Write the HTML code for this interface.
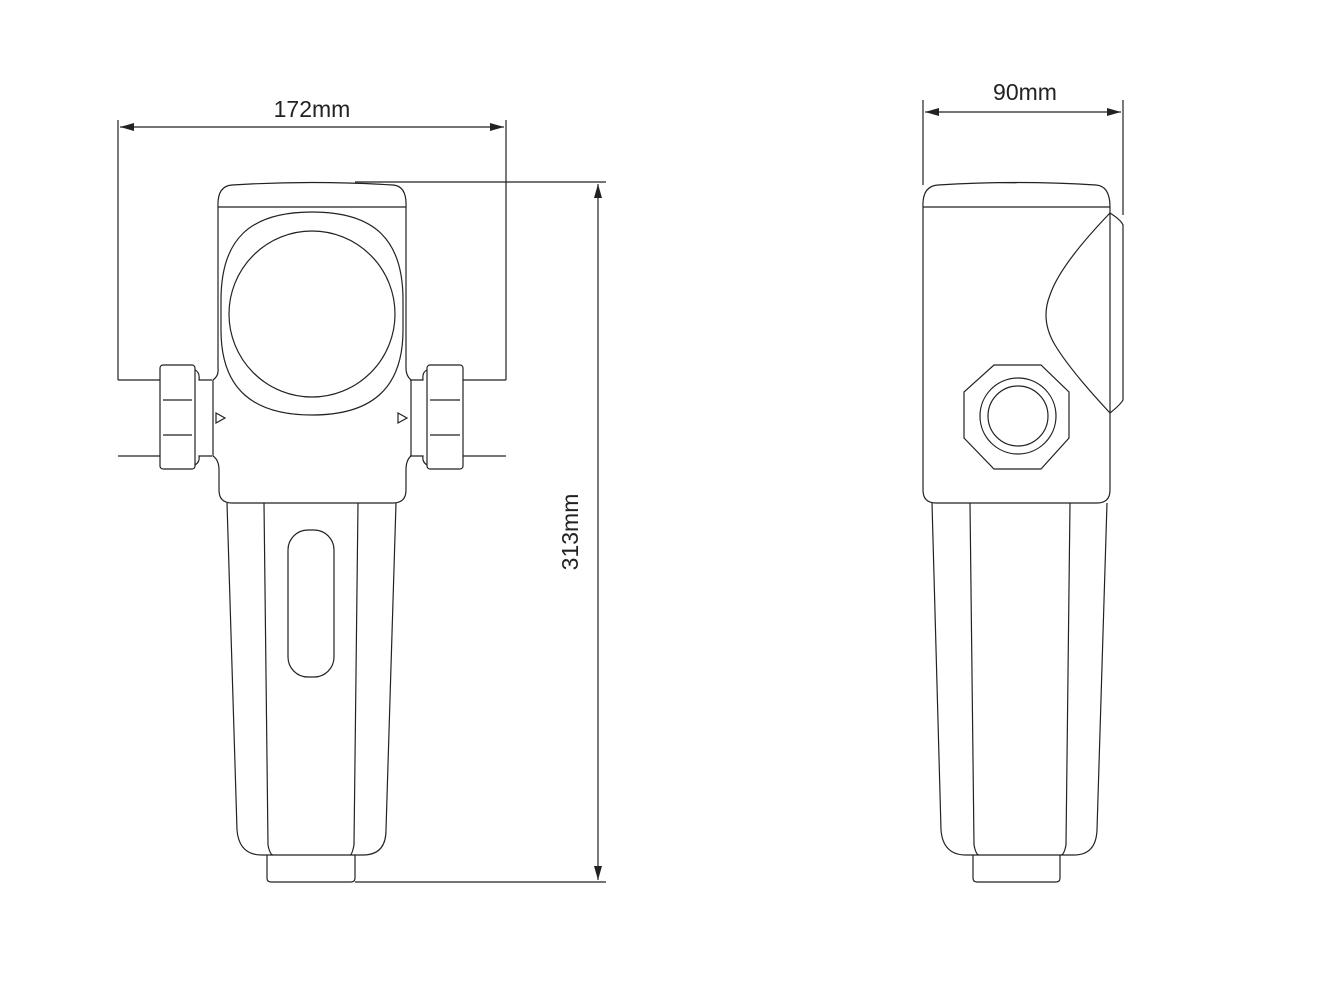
<!DOCTYPE html>
<html><head><style>html,body{margin:0;background:#fff}</style></head><body>
<svg width="1320" height="990" viewBox="0 0 1320 990" xmlns="http://www.w3.org/2000/svg" fill="none" stroke="#222" stroke-width="1.2">
<defs><marker id="a" markerWidth="14" markerHeight="8" refX="14" refY="4" orient="auto-start-reverse" markerUnits="userSpaceOnUse"><path d="M0,0 L14,4 L0,8 Z" fill="#222" stroke="none"/></marker></defs>
<!-- left dims -->
<line x1="118" y1="120" x2="118" y2="380"/><line x1="506" y1="120" x2="506" y2="380"/>
<line x1="120" y1="127" x2="504" y2="127" marker-start="url(#a)" marker-end="url(#a)"/>
<text x="312" y="117" font-family="Liberation Sans, sans-serif" font-size="23" fill="#222" stroke="none" text-anchor="middle">172mm</text>
<line x1="355" y1="182" x2="606" y2="182"/><line x1="355" y1="882" x2="606" y2="882"/>
<line x1="598" y1="184" x2="598" y2="880" marker-start="url(#a)" marker-end="url(#a)"/>
<text transform="translate(578,532) rotate(-90)" font-family="Liberation Sans, sans-serif" font-size="23" fill="#222" stroke="none" text-anchor="middle">313mm</text>
<!-- left pipes -->
<path d="M118,380 H160 M118,456 H160 M463,380 H506 M463,456 H506"/>
<rect x="160" y="365" width="35" height="104" rx="3"/><line x1="163" y1="400" x2="192" y2="400"/><line x1="163" y1="435" x2="192" y2="435"/>
<rect x="427" y="365" width="36" height="104" rx="3"/><line x1="430" y1="400" x2="460" y2="400"/><line x1="430" y1="435" x2="460" y2="435"/>
<path d="M195,370 Q200,372 199,380 H212 M195,465 Q200,462 199,456 H212"/>
<path d="M427,370 Q422,372 423,380 H410 M427,465 Q422,462 423,456 H410"/>
<!-- left head -->
<path d="M218,207 Q217,186 232,185 Q312,180 393,185 Q407,186 406,207 V368 Q406,376 411,380 V456 Q406,460 406,470 V490 Q406,503 393,503 H232 Q219,503 219,490 V470 Q219,460 213,456 V380 Q219,376 218,368 Z"/>
<line x1="218" y1="207" x2="406" y2="207"/>
<path d="M312,212 C375,212 403,240 403,300 V330 C403,390 370,415 312,415 C254,415 221,390 221,330 V300 C221,240 249,212 312,212 Z"/>
<circle cx="312" cy="314" r="83"/>
<path d="M216,413 L225,418 L216,423 Z M398,413 L407,418 L398,423 Z"/>
<!-- left bowl -->
<path d="M227,503 L237,830 Q239,855 262,855 H363 Q386,855 386,830 L396,503"/>
<path d="M264,503 L268,845 Q270,855 273,855 M358,503 L354,845 Q352,855 350,855"/>
<rect x="288" y="530" width="46" height="147" rx="20"/>
<path d="M267,855 V878 Q267,882 271,882 H351 Q355,882 355,878 V855"/>
<!-- right dims -->
<line x1="923" y1="100" x2="923" y2="185"/><line x1="1123" y1="100" x2="1123" y2="215"/>
<line x1="925" y1="112" x2="1121" y2="112" marker-start="url(#a)" marker-end="url(#a)"/>
<text x="1025" y="100" font-family="Liberation Sans, sans-serif" font-size="23" fill="#222" stroke="none" text-anchor="middle">90mm</text>
<!-- right head -->
<path d="M923,207 Q922,186 938,185 Q1017,180 1096,185 Q1110,186 1110,207 V490 Q1110,503 1097,503 H936 Q923,503 923,490 Z"/>
<line x1="923" y1="207" x2="1110" y2="207"/>
<path d="M1110,213 Q1121,220 1123,225 V400 Q1120,405 1110,413"/>
<path d="M1110,213 Q1060,265 1050,295 Q1040,320 1055,345 Q1070,370 1110,413"/>
<path d="M994,365 H1041 L1069,392 V438 L1041,469 H994 L964,438 V392 Z"/>
<circle cx="1018" cy="416" r="38"/><circle cx="1018" cy="416" r="30"/>
<!-- right bowl -->
<path d="M932,503 L941,830 Q943,855 966,855 H1074 Q1096,855 1097,830 L1107,503"/>
<path d="M970,503 L974,845 Q976,855 979,855 M1070,503 L1066,845 Q1064,855 1061,855"/>
<path d="M973,855 V878 Q973,882 977,882 H1056 Q1060,882 1060,878 V855"/>
</svg>
</body></html>
